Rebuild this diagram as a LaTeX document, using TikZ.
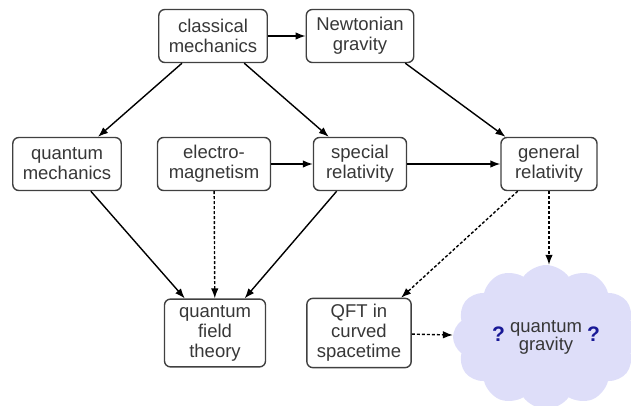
\documentclass[tikz,border=0pt]{standalone}
\usepackage{fontspec}
\setmainfont{Liberation Sans}
\usetikzlibrary{shapes.symbols, arrows.meta}

\definecolor{cloudfill}{RGB}{222,222,249}
\definecolor{qmark}{RGB}{24,24,150}
\definecolor{textgray}{RGB}{55,55,55}

\begin{document}
\begin{tikzpicture}[
    x=1pt, y=-1pt,
    box/.style={rectangle, draw=black!75, line width=1.4pt, align=center, rounded corners=6pt,
        inner xsep=10pt, inner ysep=6pt, minimum height=53pt, text=textgray,
        font=\fontsize{18.5pt}{20pt}\selectfont},
    arrow/.style={-{Latex[length=10pt,width=7.5pt]}, line width=1.4pt},
    dotarrow/.style={arrow, dash pattern=on 3pt off 2pt}
]
\useasboundingbox (0,0) rectangle (631,405);

% Nodes using absolute positioning, pixel units
\node[box] (classical) at (213, 36) {classical\\mechanics};
\node[box] (newton) at (360, 36) {Newtonian\\gravity};
\node[box] (quantum) at (67, 164) {quantum\\mechanics};
\node[box, minimum width=113pt] (electro) at (214, 164) {electro-\\magnetism};
\node[box, minimum width=93pt] (special) at (360, 164) {special\\relativity};
\node[box, minimum width=96pt] (general) at (549, 164) {general\\relativity};
\node[box, minimum width=101pt] (qft) at (215, 333) {quantum\\field\\theory};
\node[box, minimum width=104pt] (curved) at (359, 333) {QFT in\\curved\\spacetime};
\node[cloud, cloud puffs=12, cloud puff arc=110, aspect=1.3, fill=cloudfill, minimum width=186pt, minimum height=144pt,
    text=textgray, font=\fontsize{18.5pt}{20pt}\selectfont] (gravity) at (546, 337)
    {\textcolor{qmark}{\bfseries\fontsize{21pt}{22pt}\selectfont ?}\hspace{5pt}%
     \begin{tabular}{@{}c@{}}quantum\\[-2pt]gravity\end{tabular}\hspace{5pt}%
     \textcolor{qmark}{\bfseries\fontsize{21pt}{22pt}\selectfont ?}};

% Arrows
\draw[arrow] (classical) -- (newton);
\draw[arrow] (classical) -- (quantum);
\draw[arrow] (classical) -- (special);
\draw[arrow] (newton.-31) -- (general.148);
\draw[arrow] (electro) -- (special);
\draw[arrow] (special) -- (general);
\draw[arrow] (quantum) -- (qft);
\draw[arrow] (special) -- (qft);
\draw[dotarrow] (electro) -- (qft);
\draw[dotarrow] (general.221) -- (curved.40);
\draw[dotarrow] (general) -- (general |- gravity.north);
\draw[dotarrow] (curved) -- (gravity);

\end{tikzpicture}
\end{document}
